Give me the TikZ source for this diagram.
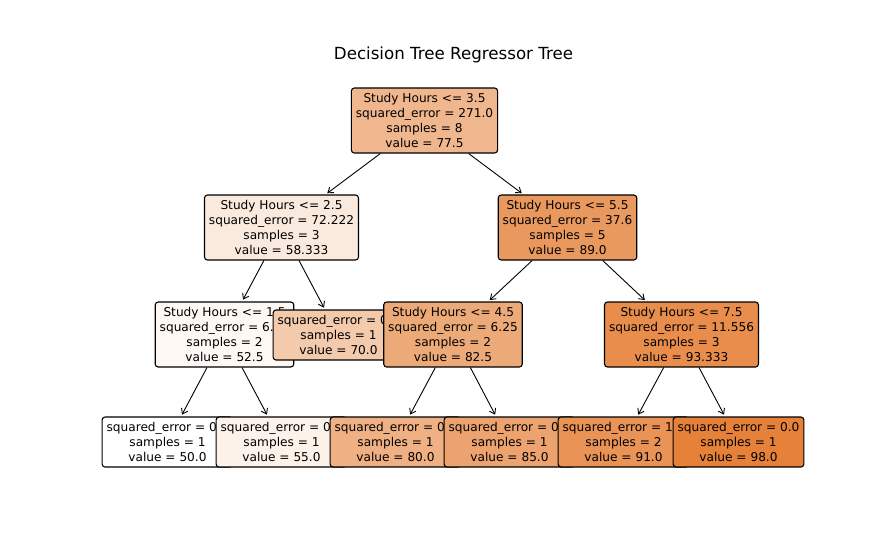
\documentclass[tikz,border=0pt]{standalone}
\usepackage{fontspec}
\setmainfont{DejaVu Sans}
\usepackage{xcolor}
\usetikzlibrary{arrows.meta}

% node colours, white to orange by value
\definecolor{val50}{RGB}{255,255,255}
\definecolor{val525}{RGB}{254,248,245}
\definecolor{val55}{RGB}{252,242,234}
\definecolor{val58}{RGB}{250,233,221}
\definecolor{val70}{RGB}{244,202,172}
\definecolor{val775}{RGB}{240,183,142}
\definecolor{val80}{RGB}{239,176,131}
\definecolor{val825}{RGB}{237,170,121}
\definecolor{val85}{RGB}{236,163,111}
\definecolor{val89}{RGB}{234,153,94}
\definecolor{val91}{RGB}{233,147,86}
\definecolor{val93}{RGB}{232,141,76}
\definecolor{val98}{RGB}{229,129,57}

\tikzset{
    splitbox/.style={draw=black, line width=1.1pt, rounded corners=3pt,
        align=center, inner xsep=4.5pt, inner ysep=0pt, minimum height=65pt,
        font=\fontsize{12.15}{15}\selectfont},
    leafbox/.style={splitbox, minimum height=50pt},
    treearrow/.style={-{Straight Barb[length=5pt,width=7pt]}, line width=0.9pt,
        shorten >=2pt}
}

\begin{document}
\begin{tikzpicture}[x=1pt,y=-1pt]
        \useasboundingbox (0,0) rectangle (884,557);
        \node[anchor=base, font=\fontsize{16.67}{20}\selectfont] (title) at (453.5,59.3) {Decision Tree Regressor Tree};
        % nodes, drawn in tree order so later boxes lie on top
        \node[splitbox, fill=val775] (root) at (424.5,120.5)
            {Study Hours <= 3.5\\squared\_error = 271.0\\samples = 8\\value = 77.5};
        \node[splitbox, fill=val58] (hours25) at (281.5,227.5)
            {Study Hours <= 2.5\\squared\_error = 72.222\\samples = 3\\value = 58.333};
        \node[splitbox, fill=val525] (hours15) at (224.5,334.5)
            {Study Hours <= 1.5\\squared\_error = 6.25\\samples = 2\\value = 52.5};
        \node[leafbox, fill=val50] (leaf50) at (167.5,442)
            {squared\_error = 0.0\\samples = 1\\value = 50.0};
        \node[leafbox, fill=val55] (leaf55) at (281.5,442)
            {squared\_error = 0.0\\samples = 1\\value = 55.0};
        \node[leafbox, fill=val70] (leaf70) at (338.5,335)
            {squared\_error = 0.0\\samples = 1\\value = 70.0};
        \node[splitbox, fill=val89] (hours55) at (567.5,227.5)
            {Study Hours <= 5.5\\squared\_error = 37.6\\samples = 5\\value = 89.0};
        \node[splitbox, fill=val825] (hours45) at (453,334.5)
            {Study Hours <= 4.5\\squared\_error = 6.25\\samples = 2\\value = 82.5};
        \node[leafbox, fill=val80] (leaf80) at (395.5,442)
            {squared\_error = 0.0\\samples = 1\\value = 80.0};
        \node[leafbox, fill=val85] (leaf85) at (509.5,442)
            {squared\_error = 0.0\\samples = 1\\value = 85.0};
        \node[splitbox, fill=val93] (hours75) at (681.5,334.5)
            {Study Hours <= 7.5\\squared\_error = 11.556\\samples = 3\\value = 93.333};
        \node[leafbox, fill=val91] (leaf91) at (623.5,442)
            {squared\_error = 1.0\\samples = 2\\value = 91.0};
        \node[leafbox, fill=val98] (leaf98) at (738.5,442)
            {squared\_error = 0.0\\samples = 1\\value = 98.0};
        % edges
        \draw[treearrow] (root) -- (hours25);
        \draw[treearrow] (root) -- (hours55);
        \draw[treearrow] (hours25) -- (hours15);
        \draw[treearrow] (hours25) -- (leaf70);
        \draw[treearrow] (hours15) -- (leaf50);
        \draw[treearrow] (hours15) -- (leaf55);
        \draw[treearrow] (hours55) -- (hours45);
        \draw[treearrow] (hours55) -- (hours75);
        \draw[treearrow] (hours45) -- (leaf80);
        \draw[treearrow] (hours45) -- (leaf85);
        \draw[treearrow] (hours75) -- (leaf91);
        \draw[treearrow] (hours75) -- (leaf98);
\end{tikzpicture}
\end{document}
